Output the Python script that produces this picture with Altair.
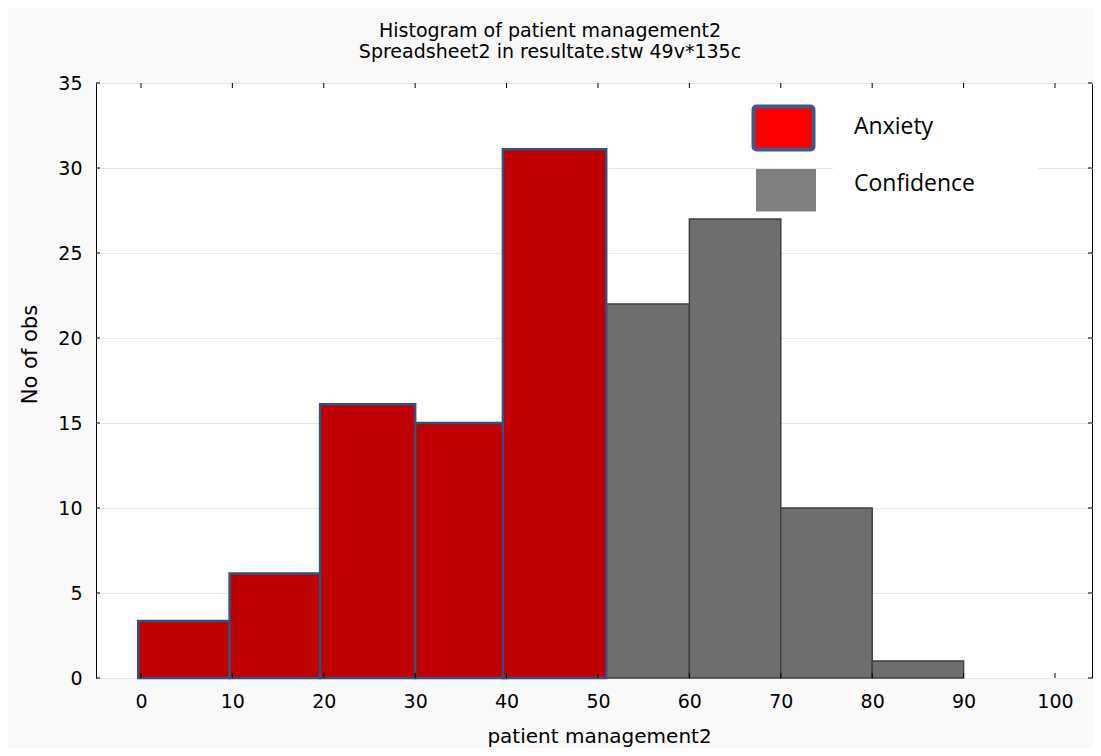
import altair as alt
import pandas as pd

# ---- data ----
title_lines = ["Histogram of patient management2", "Spreadsheet2 in resultate.stw 49v*135c"]
x_title = "patient management2"
y_title = "No of obs"
legend_labels = ["Anxiety", "Confidence"]

x_ticks = [0, 10, 20, 30, 40, 50, 60, 70, 80, 90, 100]
y_ticks = [0, 5, 10, 15, 20, 25, 30, 35]

anx_start = [-0.3, 9.7, 19.6, 30.0, 39.6]
anx_end = [9.7, 19.6, 30.0, 40.0, 50.9]
anx_count = [3.35, 6.15, 16.1, 15.0, 31.1]

conf_start = [50, 60, 70, 80]
conf_end = [60, 70, 80, 90]
conf_count = [22, 27, 10, 1]

# ---- tables ----
anx_df = pd.DataFrame({"start": anx_start, "end": anx_end, "count": anx_count})
conf_df = pd.DataFrame({"start": conf_start, "end": conf_end, "count": conf_count})
xt_df = pd.DataFrame({"v": x_ticks})
yt_df = pd.DataFrame({"v": y_ticks})
one = pd.DataFrame({"k": [0]})

W, H = 996, 595
FONT = "DejaVu Sans"

xs = alt.Scale(domain=[-4.92, 104.05], nice=False, zero=False)
ys = alt.Scale(domain=[0, 35], nice=False, zero=False)

x_axis = alt.Axis(
    values=x_ticks, ticks=False, domain=False, grid=False,
    labelFont=FONT, labelFontSize=19, labelColor="black", labelPadding=14,
    title=x_title, titleFont=FONT, titleFontSize=20, titleFontWeight="normal",
    titleColor="black", titleX=503, titleY=64, titleAlign="center",
    titleBaseline="alphabetic",
)
y_axis = alt.Axis(
    values=y_ticks, ticks=False, domain=False, grid=True,
    gridColor="#e6e6e6", gridWidth=1.2,
    labelFont=FONT, labelFontSize=19, labelColor="black", labelPadding=14,
    title=y_title, titleFont=FONT, titleFontSize=21, titleFontWeight="normal",
    titleColor="black", titleX=-66, titleY=271, titleAngle=270,
    titleAlign="center", titleBaseline="middle",
)

conf_bars = alt.Chart(conf_df).mark_rect(
    fill="#6e6e6e", stroke="#404040", strokeWidth=1.5
).encode(
    x=alt.X("start:Q", scale=xs, axis=x_axis),
    x2="end:Q",
    y=alt.Y("count:Q", scale=ys, axis=y_axis),
    y2=alt.datum(0),
)

anx_bars = alt.Chart(anx_df).mark_rect(
    fill="#c00000", stroke="#34507e", strokeWidth=2.5
).encode(
    x=alt.X("start:Q", scale=xs),
    x2="end:Q",
    y=alt.Y("count:Q", scale=ys),
    y2=alt.datum(0),
)

# inward ticks on all four sides
tick_col = "black"
top_ticks = alt.Chart(xt_df).mark_rule(color=tick_col, strokeWidth=1).encode(
    x=alt.X("v:Q", scale=xs), y=alt.value(0), y2=alt.value(5))
bot_ticks = alt.Chart(xt_df).mark_rule(color=tick_col, strokeWidth=1).encode(
    x=alt.X("v:Q", scale=xs), y=alt.value(H - 5), y2=alt.value(H))
left_ticks = alt.Chart(yt_df).mark_rule(color=tick_col, strokeWidth=1).encode(
    y=alt.Y("v:Q", scale=ys), x=alt.value(0), x2=alt.value(4))
right_ticks = alt.Chart(yt_df).mark_rule(color=tick_col, strokeWidth=1).encode(
    y=alt.Y("v:Q", scale=ys), x=alt.value(W - 4), x2=alt.value(W))

# legend (drawn by hand, as in the reference)
leg_bg = alt.Chart(one).mark_rect(fill="white").encode(
    x=alt.value(737), x2=alt.value(942), y=alt.value(17), y2=alt.value(132))
leg_red = alt.Chart(one).mark_rect(
    fill="#ff0000", stroke="#3c5a8c", strokeWidth=4, cornerRadius=3
).encode(x=alt.value(657.5), x2=alt.value(717.5), y=alt.value(23.5), y2=alt.value(66.5))
leg_grey = alt.Chart(one).mark_rect(fill="#808080").encode(
    x=alt.value(660), x2=alt.value(720), y=alt.value(86), y2=alt.value(128.5))
leg_t1 = alt.Chart(one).mark_text(
    align="left", baseline="middle", font="Open Sans", fontSize=23, color="black"
).encode(x=alt.value(758), y=alt.value(44), text=alt.value(legend_labels[0]))
leg_t2 = alt.Chart(one).mark_text(
    align="left", baseline="middle", font="Open Sans", fontSize=23, color="black"
).encode(x=alt.value(758), y=alt.value(101), text=alt.value(legend_labels[1]))

chart = alt.layer(
    conf_bars, anx_bars, top_ticks, bot_ticks, left_ticks, right_ticks,
    leg_bg, leg_red, leg_grey, leg_t1, leg_t2,
).properties(
    width=W, height=H,
    title=alt.TitleParams(
        text=title_lines, font=FONT, fontSize=19, fontWeight="normal",
        color="black", anchor="middle", dx=-44, dy=30, offset=23, lineHeight=21,
        baseline="bottom",
    ),
    autosize=alt.AutoSizeParams(type="none"),
    padding={"left": 88, "top": 75, "right": 1, "bottom": 70},
    background="#f9f9f9",
).configure_view(
    stroke="black", strokeWidth=1, fill="white"
)

chart.save("out.html", embed_options={"renderer": "svg", "actions": False})
